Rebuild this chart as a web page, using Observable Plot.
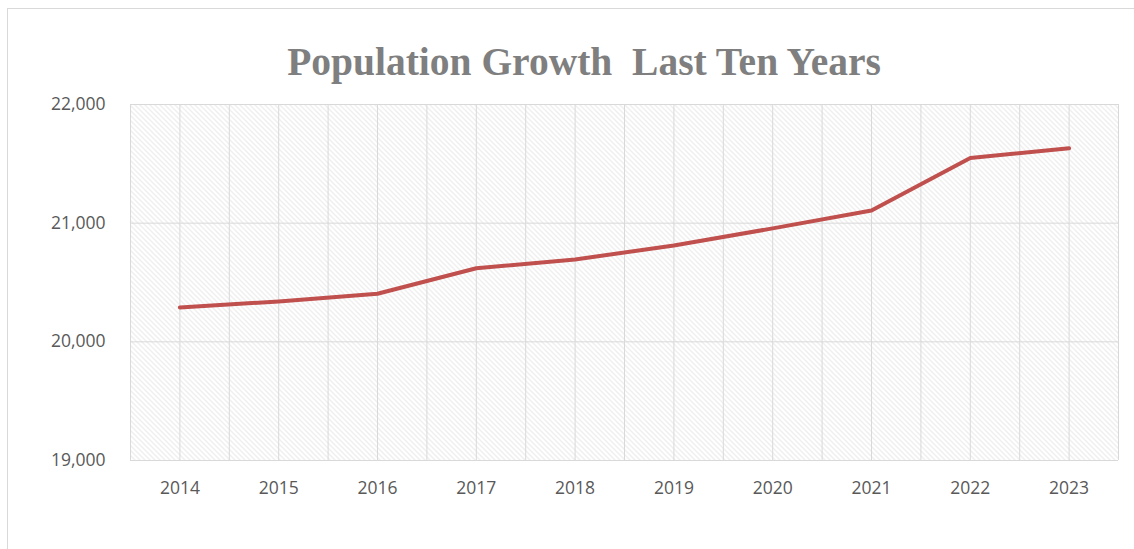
<!DOCTYPE html>
<html>
<head>
<meta charset="utf-8">
<script src="https://cdn.jsdelivr.net/npm/d3@7"></script>
<script src="https://cdn.jsdelivr.net/npm/@observablehq/plot@0.6"></script>
<style>
  html, body { margin: 0; padding: 0; background: #fff; }
  #wrap { position: relative; width: 1134px; height: 549px; overflow: hidden; }
  #frame { position: absolute; left: 7px; top: 8px; width: 1200px; height: 600px; border: 1px solid #d9d9d9; box-sizing: border-box; }
  #title { position: absolute; left: 0; width: 1168px; top: 39px; text-align: center;
    font-family: "Liberation Serif", "DejaVu Serif", serif; font-weight: bold; font-size: 39.5px; color: #7f7f7f; white-space: pre; line-height: 46px; }
  #chart { position: absolute; left: 0; top: 0; }
</style>
</head>
<body>
<div id="wrap">
  <div id="frame"></div>
  <div id="chart"></div>
  <div id="title">Population Growth  Last Ten Years</div>
</div>
<script>
const years = [2014, 2015, 2016, 2017, 2018, 2019, 2020, 2021, 2022, 2023];
const population = [20290, 20340, 20405, 20620, 20694, 20812, 20956, 21106, 21550, 21631];
const yTicks = [19000, 20000, 21000, 22000];
const title = "Population Growth  Last Ten Years";

const data = years.map((y, i) => ({year: y, value: population[i]}));
const halfGrid = d3.range(years[0] - 0.5, years[years.length - 1] + 0.51, 0.5);

const plot = Plot.plot({
  width: 1134,
  height: 549,
  marginLeft: 130,
  marginRight: 16,
  marginTop: 104,
  marginBottom: 89,
  style: {fontFamily: "'Open Sans', sans-serif", fontSize: "17.5px", color: "#595959", background: "transparent"},
  x: {domain: [years[0] - 0.5, years[years.length - 1] + 0.5], ticks: years, tickFormat: d => String(d), tickSize: 0, tickPadding: 21, label: null},
  y: {domain: [yTicks[0], yTicks[yTicks.length - 1]], ticks: yTicks, tickFormat: d3.format(","), tickSize: 0, tickPadding: 25, label: null},
  marks: [
    Plot.frame({fill: "url(#hatch)", stroke: null}),
    Plot.ruleX(halfGrid, {stroke: "#d9d9d9", strokeWidth: 1, strokeOpacity: 1}),
    Plot.ruleY(yTicks, {stroke: "#d9d9d9", strokeWidth: 1, strokeOpacity: 1}),
    Plot.axisX({ticks: years, tickFormat: d => String(d), tickSize: 0, tickPadding: 21, fill: "#595959"}),
    Plot.axisY({ticks: yTicks, tickFormat: d3.format(","), tickSize: 0, tickPadding: 25, fill: "#595959"}),
    Plot.line(data, {x: "year", y: "value", stroke: "#c0504d", strokeWidth: 4, strokeLinejoin: "round", strokeLinecap: "round"})
  ]
});

const svg = d3.select(plot);
const defs = svg.insert("defs", ":first-child");
const pat = defs.append("pattern").attr("id", "hatch").attr("patternUnits", "userSpaceOnUse")
  .attr("width", 5).attr("height", 5);
pat.append("rect").attr("width", 5).attr("height", 5).attr("fill", "#ffffff");
pat.append("path").attr("d", "M-1,-1 L6,6 M-1,4 L1,6 M4,-1 L6,1")
  .attr("stroke", "#dedede").attr("stroke-width", 1);

document.getElementById("chart").appendChild(plot);
document.getElementById("title").textContent = title;
</script>
</body>
</html>
